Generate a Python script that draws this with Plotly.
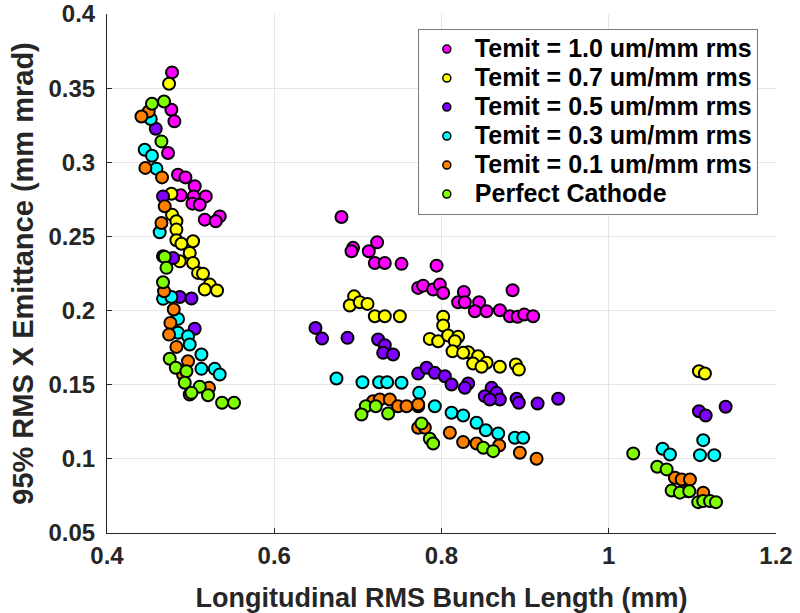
import plotly.graph_objects as go

# ---------------- data ----------------
names = ["Temit = 1.0 um/mm rms", "Temit = 0.7 um/mm rms", "Temit = 0.5 um/mm rms",
         "Temit = 0.3 um/mm rms", "Temit = 0.1 um/mm rms", "Perfect Cathode"]
colors = ["#FF00FF", "#FFFF00", "#8000FF", "#00FFFF", "#FF8000", "#80FF00"]

x_t10 = [0.4778, 0.477, 0.4806, 0.473, 0.4849, 0.4938, 0.5049, 0.5181, 0.5037, 0.4882,
         0.5022, 0.5109, 0.5169, 0.5348, 0.530,
         0.6804, 0.6943, 0.6924, 0.7131, 0.723, 0.7203, 0.7322, 0.7522, 0.7941, 0.7721,
         0.778, 0.790, 0.798, 0.802, 0.885, 0.8267, 0.8199, 0.8279, 0.845, 0.8399,
         0.8539, 0.8698, 0.8818, 0.891, 0.8989, 0.9096]
y_t10 = [0.3606, 0.3354, 0.3276, 0.3063, 0.2916, 0.2898, 0.2838, 0.277, 0.277, 0.2777,
         0.2721, 0.2714, 0.2613, 0.2635, 0.2602,
         0.2631, 0.2423, 0.240, 0.240, 0.246, 0.2321, 0.2321, 0.2315, 0.2303, 0.2153,
         0.2168, 0.2142, 0.2175, 0.2119, 0.2137, 0.2126, 0.2056, 0.2056, 0.2056, 0.1995,
         0.1995, 0.2002, 0.1962, 0.1958, 0.1973, 0.1962]

x_t07 = [0.4742, 0.477, 0.4778, 0.483, 0.483, 0.483, 0.5029, 0.489, 0.4989, 0.5029,
         0.487, 0.5089, 0.5148, 0.5229, 0.5169, 0.5316,
         0.6955, 0.6903, 0.7023, 0.7115, 0.7203, 0.7322, 0.7502, 0.802, 0.802, 0.786,
         0.796, 0.8079, 0.8199, 0.816, 0.8132, 0.8319, 0.8259, 0.8438, 0.8378, 0.8539,
         0.8479, 0.8698, 0.8889, 0.8925,
         1.1079, 1.115]
y_t07 = [0.353, 0.2788, 0.2647, 0.2602, 0.2546, 0.2474, 0.2467, 0.2451, 0.2389, 0.2321,
         0.2332, 0.2254, 0.2249, 0.2175, 0.2142, 0.2135,
         0.2096, 0.2034, 0.2056, 0.2045, 0.1962, 0.1962, 0.1962, 0.1958, 0.1899, 0.1809,
         0.1793, 0.1832, 0.1823, 0.1793, 0.1726, 0.1719, 0.1715, 0.1692, 0.1643, 0.1648,
         0.1621, 0.1621, 0.1636, 0.1602,
         0.1591, 0.1576]

x_t05 = [0.4583, 0.467, 0.479, 0.487, 0.501, 0.5049,
         0.6493, 0.6572, 0.6876, 0.7242, 0.7322, 0.7302, 0.7421, 0.7721, 0.7821, 0.792,
         0.804, 0.812, 0.8319, 0.8279, 0.8599, 0.8658, 0.8518, 0.8698, 0.8578, 0.8898,
         0.8925, 0.9149, 0.9395,
         1.1079, 1.1159, 1.1398]
y_t05 = [0.3226, 0.277, 0.2355, 0.2092, 0.2081, 0.1877,
         0.1883, 0.1811, 0.1816, 0.1805, 0.1766, 0.1715, 0.1704, 0.1575, 0.1614, 0.158,
         0.1557, 0.1501, 0.1508, 0.1479, 0.1479, 0.1445, 0.1423, 0.140, 0.140, 0.1405,
         0.1378, 0.1373, 0.1405,
         0.1321, 0.1292, 0.1351]

x_t03 = [0.4523, 0.4451, 0.4538, 0.4591, 0.463, 0.467, 0.477, 0.4849, 0.4849, 0.4969,
         0.4989, 0.5129, 0.5129, 0.5288, 0.5348,
         0.6744, 0.7055, 0.7254, 0.735, 0.7522, 0.7733, 0.7721, 0.792, 0.812, 0.8259,
         0.8419, 0.853, 0.8678, 0.8877, 0.8977,
         1.0644, 1.0732, 1.113, 1.1091, 1.1262]
y_t03 = [0.3292, 0.3085, 0.3044, 0.2957, 0.2528, 0.2079, 0.2092, 0.1944, 0.185, 0.1827,
         0.1771, 0.1704, 0.1607, 0.1607, 0.1569,
         0.1542, 0.1517, 0.1517, 0.1517, 0.1513, 0.1445, 0.1355, 0.1355, 0.1311, 0.1292,
         0.1243, 0.1193, 0.1171, 0.1142, 0.1142,
         0.1068, 0.1029, 0.1126, 0.1025, 0.1025]

x_t01 = [0.4499, 0.4412, 0.4459, 0.4658, 0.469, 0.4651, 0.467, 0.4682, 0.4798, 0.4758,
         0.4742, 0.483, 0.4969, 0.4909, 0.4989, 0.522,
         0.7182, 0.7262, 0.7382, 0.7481, 0.7582, 0.7721, 0.7721, 0.7801, 0.810, 0.8259,
         0.8419, 0.869, 0.8937, 0.9137,
         1.0791, 1.0872, 1.0971, 1.0951, 1.113]
y_t01 = [0.3343, 0.3309, 0.2962, 0.2898, 0.2703, 0.2591, 0.2366, 0.213, 0.2007, 0.1917,
         0.1838, 0.1755, 0.1658, 0.1569, 0.1434, 0.1479,
         0.1389, 0.140, 0.140, 0.1355, 0.1355, 0.1367, 0.121, 0.121, 0.1176, 0.1113,
         0.1104, 0.109, 0.1041, 0.1001,
         0.0873, 0.0861, 0.0861, 0.0782, 0.0772]

x_pc = [0.4538, 0.4682, 0.4651, 0.469, 0.4711, 0.467, 0.475, 0.4822, 0.495, 0.493,
        0.5109, 0.501, 0.5208, 0.5376, 0.5519,
        0.7095, 0.7214, 0.7043, 0.7362, 0.7761, 0.786, 0.790, 0.850, 0.8618,
        1.0293, 1.058, 1.0692, 1.0752, 1.0851, 1.0963, 1.107, 1.113, 1.1211, 1.1282]
y_pc = [0.3395, 0.341, 0.3141, 0.2362, 0.2288, 0.2191, 0.1675, 0.1614, 0.1591, 0.1513,
        0.1486, 0.1445, 0.1429, 0.1378, 0.1378,
        0.1355, 0.1355, 0.1299, 0.1306, 0.1239, 0.1136, 0.1104, 0.1075, 0.1052,
        0.1036, 0.0947, 0.0929, 0.0787, 0.0772, 0.0782, 0.0708, 0.0715, 0.0715, 0.0708]

xs = [x_t10, x_t07, x_t05, x_t03, x_t01, x_pc]
ys = [y_t10, y_t07, y_t05, y_t03, y_t01, y_pc]

x_ticks = [0.4, 0.6, 0.8, 1.0, 1.2]
x_ticktext = ["0.4", "0.6", "0.8", "1", "1.2"]
y_ticks = [0.05, 0.1, 0.15, 0.2, 0.25, 0.3, 0.35, 0.4]
y_ticktext = ["0.05", "0.1", "0.15", "0.2", "0.25", "0.3", "0.35", "0.4"]

FONT = "Liberation Sans, Arial, Helvetica, sans-serif"
TXT = "#262626"

fig = go.Figure()
for name, c, x, y in zip(names, colors, xs, ys):
    fig.add_trace(go.Scatter(
        x=x, y=y, mode="markers", name=name, showlegend=False,
        marker=dict(size=12, color=c, line=dict(color="black", width=2)),
    ))
# legend entries (smaller symbols, like the reference legend)
for name, c in zip(names, colors):
    fig.add_trace(go.Scatter(
        x=[None], y=[None], mode="markers",
        name='<span style="font-size:25px">' + name + '</span>', showlegend=True,
        marker=dict(size=8, color=c, line=dict(color="black", width=1.5)),
    ))

axis_common = dict(
    showgrid=True, gridcolor="#e6e6e6", gridwidth=1,
    showline=True, linecolor=TXT, linewidth=1, mirror=False,
    ticks="inside", ticklen=5, tickcolor=TXT,
    tickfont=dict(family=FONT, size=24, color=TXT, weight="bold"),
    zeroline=False, automargin=False,
)

fig.update_layout(
    width=800, height=613,
    margin=dict(l=107, r=24, t=14, b=80),
    paper_bgcolor="white", plot_bgcolor="white",
    xaxis=dict(range=[0.4, 1.2], tickvals=x_ticks, ticktext=x_ticktext,
               ticklabelstandoff=1,
               title=dict(text="Longitudinal RMS Bunch Length (mm)", standoff=20,
                          font=dict(family=FONT, size=27, color=TXT, weight="bold")),
               **axis_common),
    yaxis=dict(range=[0.05, 0.4], tickvals=y_ticks, ticktext=y_ticktext,
               ticklabelstandoff=6,
               title=dict(text="95% RMS X Emittance (mm mrad)", standoff=6,
                          font=dict(family=FONT, size=29, color=TXT, weight="bold")),
               **axis_common),
    legend=dict(
        x=0.4646, y=0.972, xanchor="left", yanchor="top",
        bgcolor="white", bordercolor="#7a7a7a", borderwidth=1,
        font=dict(family=FONT, size=20, color="black", weight="bold"),
        itemsizing="trace", itemwidth=46,
    ),
)

fig.write_html("out.html")
